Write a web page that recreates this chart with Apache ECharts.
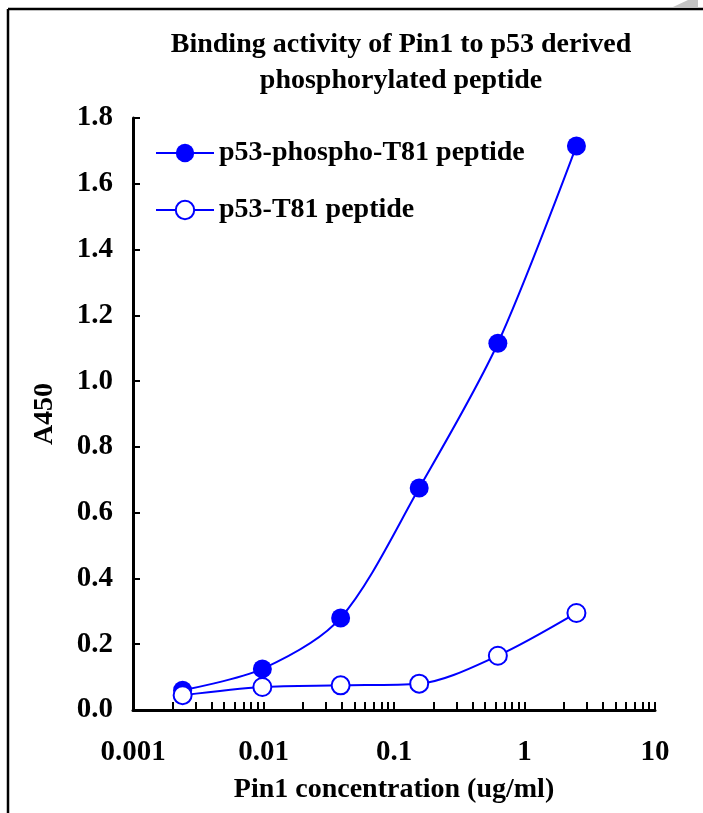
<!DOCTYPE html>
<html>
<head>
    <meta charset="utf-8">
    <title>Pin1 binding</title>
    <script src="https://cdn.jsdelivr.net/npm/echarts@6/dist/echarts.min.js"></script>
    <style>
        html, body { margin: 0; padding: 0; background: #fff; }
    </style>
</head>
<body>
    <div id="main" style="width: 703px;height:813px;"></div>
    <script type="text/javascript">
        // Pin1 concentration (ug/ml), 4-fold dilutions
        var conc = [0.0024, 0.0098, 0.039, 0.156, 0.625, 2.5]
        var phosphoT81 = [0.06, 0.125, 0.28, 0.675, 1.115, 1.715]
        var plainT81 = [0.045, 0.07, 0.075, 0.08, 0.165, 0.295]
        var seriesNames = ['p53-phospho-T81 peptide', 'p53-T81 peptide']
        var yTicks = [0, 0.2, 0.4, 0.6, 0.8, 1.0, 1.2, 1.4, 1.6, 1.8]
        var xDecades = [0.001, 0.01, 0.1, 1, 10]

        // log axis ticks: every 1..9 step inside each decade
        var xTickVals = []
        for (var d = 0; d < xDecades.length - 1; d++) {
            for (var k = 1; k <= 9; k++) xTickVals.push(+(xDecades[d] * k).toPrecision(2))
        }
        xTickVals.push(xDecades[xDecades.length - 1])

        function pairs(xs, ys) {
            return xs.map(function (x, i) { return [x, ys[i]] })
        }

        var font = '"Liberation Serif", "Times New Roman", serif'
        var blue = '#0000ff'

        var myChart = echarts.init(document.getElementById('main'))
        var option = {
            animation: false,
            backgroundColor: '#fff',
            title: {
                text: 'Binding activity of Pin1 to p53 derived\nphosphorylated peptide',
                left: 396,
                top: 22,
                textAlign: 'center',
                textStyle: {
                    fontFamily: font,
                    fontWeight: 'bold',
                    fontSize: 28,
                    lineHeight: 36,
                    color: '#000'
                }
            },
            legend: {
                left: 150,
                top: 134,
                orient: 'vertical',
                itemWidth: 58,
                itemHeight: 23,
                itemGap: 29,
                textStyle: {
                    fontFamily: font,
                    fontWeight: 'bold',
                    fontSize: 28,
                    color: '#000'
                },
                data: seriesNames
            },
            grid: {
                left: 133,
                right: 48,
                top: 118,
                bottom: 103
            },
            xAxis: {
                type: 'log',
                logBase: 10,
                min: xDecades[0],
                max: xDecades[xDecades.length - 1],
                name: 'Pin1 concentration (ug/ml)',
                nameLocation: 'middle',
                nameGap: 66,
                nameTextStyle: {
                    fontFamily: font,
                    fontWeight: 'bold',
                    fontSize: 28,
                    color: '#000'
                },
                splitLine: { show: false },
                axisLine: { lineStyle: { color: '#000', width: 3 } },
                axisTick: {
                    inside: true,
                    length: 8,
                    customValues: xTickVals,
                    lineStyle: { color: '#000', width: 2 }
                },
                axisLabel: {
                    customValues: xDecades,
                    margin: 28,
                    fontFamily: font,
                    fontWeight: 'bold',
                    fontSize: 29,
                    color: '#000',
                    formatter: function (v) { return String(+v.toPrecision(1)) }
                }
            },
            yAxis: {
                type: 'value',
                min: 0,
                max: 1.8,
                interval: 0.2,
                name: 'A450',
                nameLocation: 'middle',
                nameGap: 74,
                nameTextStyle: {
                    fontFamily: font,
                    fontWeight: 'bold',
                    fontSize: 28,
                    color: '#000'
                },
                splitLine: { show: false },
                axisLine: { show: true, lineStyle: { color: '#000', width: 3 } },
                axisTick: {
                    show: true,
                    inside: true,
                    length: 7,
                    lineStyle: { color: '#000', width: 2 }
                },
                axisLabel: {
                    customValues: yTicks,
                    margin: 20,
                    fontFamily: font,
                    fontWeight: 'bold',
                    fontSize: 29,
                    color: '#000',
                    formatter: function (v) { return v.toFixed(1) }
                }
            },
            graphic: [
                { type: 'line', shape: { x1: 8, y1: 9, x2: 703, y2: 9 }, style: { stroke: '#000', lineWidth: 2.5 } },
                { type: 'line', shape: { x1: 8, y1: 9, x2: 8, y2: 813 }, style: { stroke: '#000', lineWidth: 2.5 } },
                { type: 'polygon', shape: { points: [[673, 7], [688, 0], [698, 0], [698, 7]] }, style: { fill: '#c4c4c4' } }
            ],
            series: [
                {
                    name: seriesNames[0],
                    type: 'line',
                    smooth: 0.3,
                    symbol: 'circle',
                    symbolSize: 19,
                    itemStyle: { color: blue },
                    lineStyle: { color: blue, width: 2 },
                    data: pairs(conc, phosphoT81)
                },
                {
                    name: seriesNames[1],
                    type: 'line',
                    smooth: 0.3,
                    symbol: 'emptyCircle',
                    symbolSize: 18,
                    itemStyle: { color: blue, borderWidth: 2 },
                    lineStyle: { color: blue, width: 2 },
                    data: pairs(conc, plainT81)
                }
            ]
        };
        myChart.setOption(option);
    </script>
</body>
</html>
